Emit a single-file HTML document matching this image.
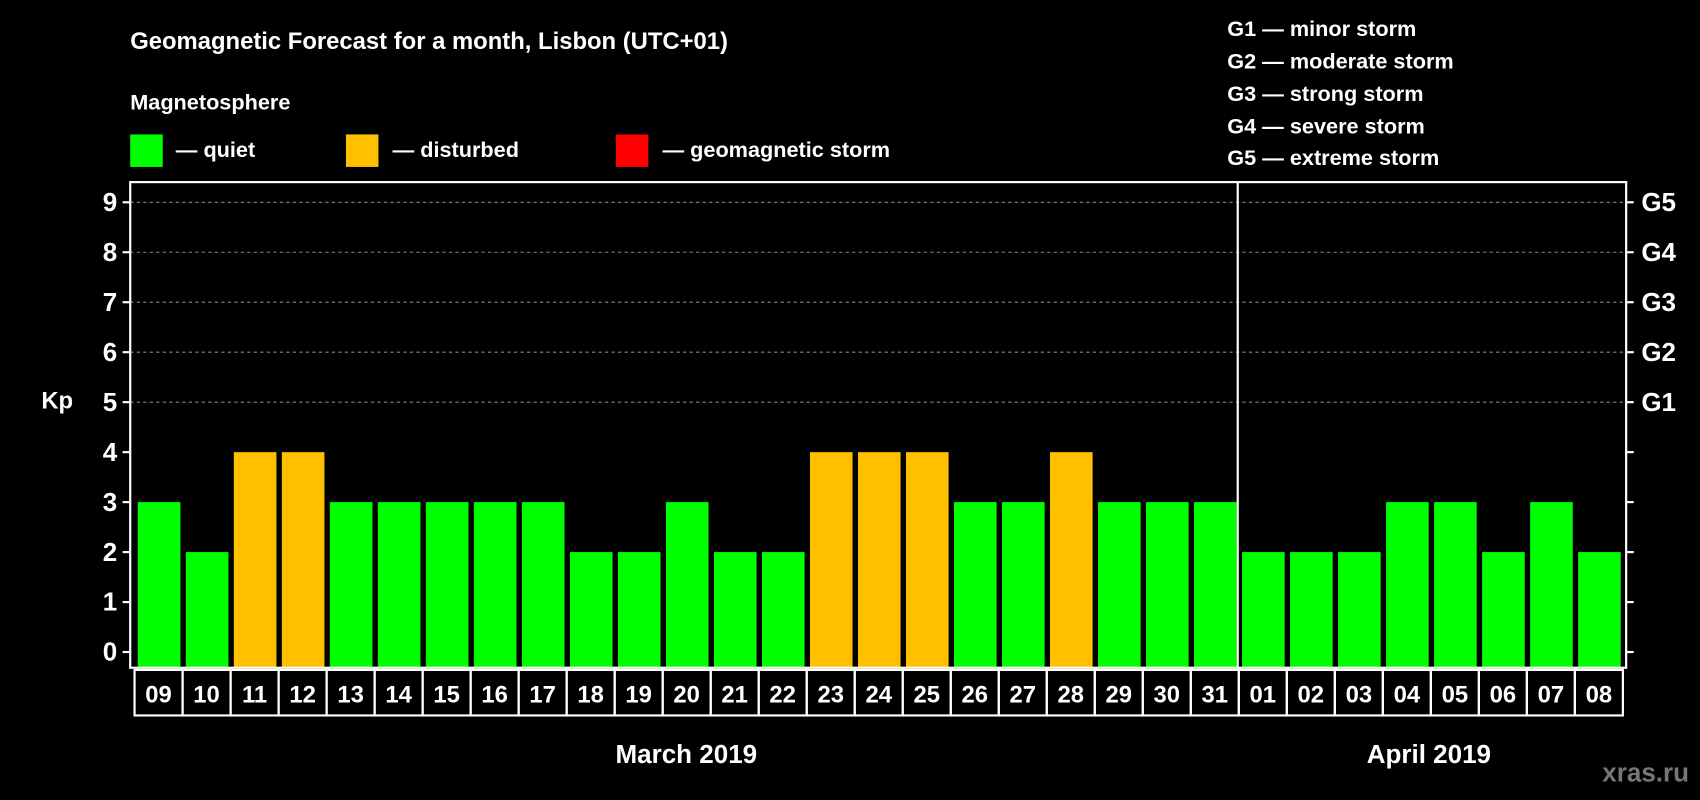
<!DOCTYPE html>
<html><head><meta charset="utf-8"><style>
html,body{margin:0;padding:0;background:#000;width:1700px;height:800px;overflow:hidden}
svg{display:block;font-family:"Liberation Sans",Arial,sans-serif;font-weight:bold}
</style></head><body>
<svg id="c" width="1700" height="800" viewBox="0 0 1568 738">
<rect width="1568" height="738" fill="#000"/>
<text x="120" y="45" fill="#fff" font-size="22">Geomagnetic Forecast for a month, Lisbon (UTC+01)</text>
<text x="120" y="101" fill="#fff" font-size="20">Magnetosphere</text>
<g><rect x="120" y="124" width="30" height="30" fill="#00ff00"/><text x="162" y="145" fill="#fff" font-size="20">— quiet</text></g>
<g><rect x="319" y="124" width="30" height="30" fill="#ffc000"/><text x="362" y="145" fill="#fff" font-size="20">— disturbed</text></g>
<g><rect x="568" y="124" width="30" height="30" fill="#ff0000"/><text x="611" y="145" fill="#fff" font-size="20">— geomagnetic storm</text></g>
<g fill="#fff" font-size="20">
<text x="1132" y="33">G1 — minor storm</text>
<text x="1132" y="63">G2 — moderate storm</text>
<text x="1132" y="93">G3 — strong storm</text>
<text x="1132" y="123">G4 — severe storm</text>
<text x="1132" y="152">G5 — extreme storm</text>
</g>
<text x="38" y="377" fill="#fff" font-size="22">Kp</text>
<g id="plot"></g>
<text x="633" y="704" fill="#fff" font-size="24" text-anchor="middle">March 2019</text>
<text x="1318" y="704" fill="#fff" font-size="24" text-anchor="middle">April 2019</text>
<text x="1558" y="721" fill="#777" font-size="24" text-anchor="end">xras.ru</text>
</svg>
<script>
const days=["09","10","11","12","13","14","15","16","17","18","19","20","21","22","23","24","25","26","27","28","29","30","31","01","02","03","04","05","06","07","08"];
const kp=[3,2,4,4,3,3,3,3,3,2,2,3,2,2,4,4,4,3,3,4,3,3,3,2,2,2,3,3,2,3,2];
const yTicks=[0,1,2,3,4,5,6,7,8,9];
const gLabels=[[5,"G1"],[6,"G2"],[7,"G3"],[8,"G4"],[9,"G5"]];
const NS="http://www.w3.org/2000/svg";
const L=120,R=1500,T=168,B=616,step=(1497-124)/days.length;
const y=v=>601.5-v*46.1;
const x=i=>124+i*step;
const g=document.getElementById('plot');
function mk(t,a){const e=document.createElementNS(NS,t);for(const k in a)e.setAttribute(k,a[k]);g.appendChild(e);return e;}
yTicks.forEach(v=>{
  if(v>=5){const l=mk('line',{x1:L,x2:R,y1:y(v),y2:y(v),stroke:'#888','stroke-dasharray':'3,3'});
  
  }
  mk('line',{x1:L-7,x2:L,y1:y(v),y2:y(v),stroke:'#fff','stroke-width':2});
  mk('line',{x1:R,x2:R+7,y1:y(v),y2:y(v),stroke:'#fff','stroke-width':2});
  const t=mk('text',{x:L-12,y:y(v)+8,fill:'#fff','font-size':24,'text-anchor':'end'});
  t.textContent=v;
  
  
});
gLabels.forEach(([v,s])=>{
  const t=mk('text',{x:R+14,y:y(v)+8,fill:'#fff','font-size':24});
  t.textContent=s;
  
  
});
kp.forEach((v,i)=>{
  const col=v>=5?'#ff0000':(v>=4?'#ffc000':'#00ff00');
  const r=mk('rect',{x:x(i)+3,y:y(v),width:step-5,height:B-y(v),fill:col});
  
  
  const b=mk('rect',{x:x(i),y:B+2,width:step,height:42,fill:'none',stroke:'#fff','stroke-width':2});
  
  
  const t=mk('text',{x:x(i)+step/2,y:B+32,fill:'#fff','font-size':22,'text-anchor':'middle'});
  t.textContent=days[i];
  
  
});
const sep=mk('line',{x1:x(23)-1,x2:x(23)-1,y1:T,y2:B,stroke:'#fff','stroke-width':2});


const fr=mk('rect',{x:L,y:T,width:R-L,height:B-T,fill:'none',stroke:'#fff','stroke-width':2});


</script>
</body></html>
